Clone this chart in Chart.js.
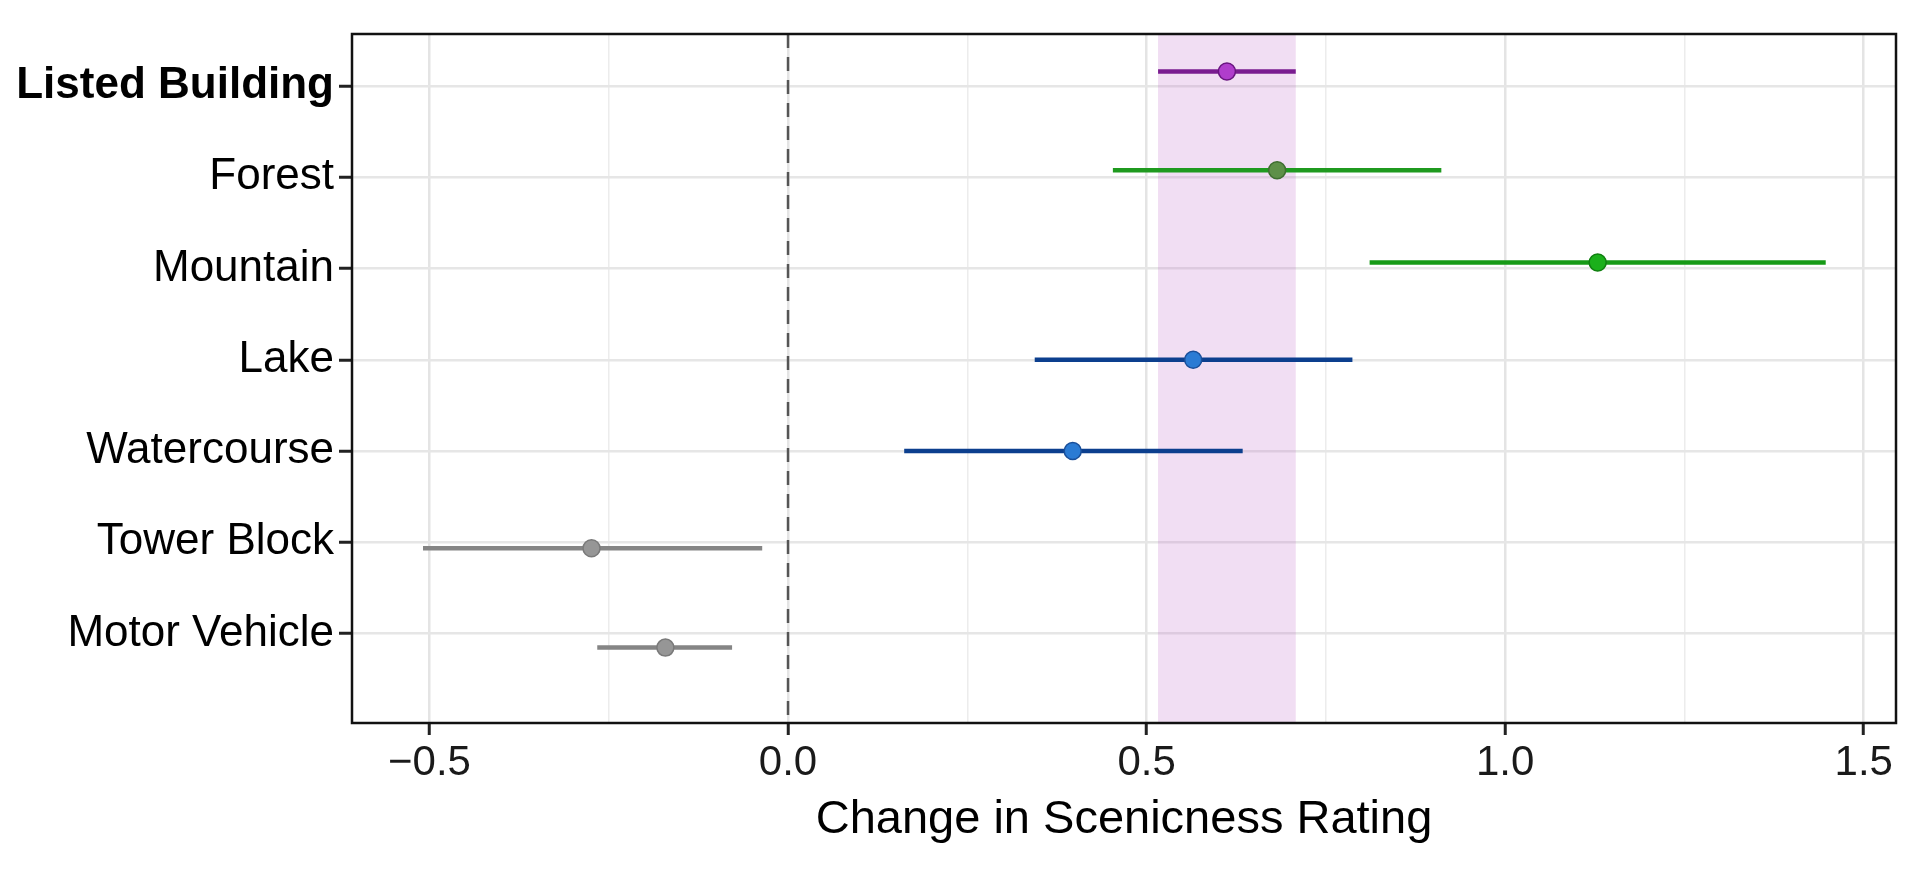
<!DOCTYPE html>
<html><head><meta charset="utf-8">
<script src="https://cdn.jsdelivr.net/npm/chart.js@4.4.0/dist/chart.umd.min.js"></script>
<style>html,body{margin:0;padding:0;background:#fff;overflow:hidden}canvas{display:block}</style>
</head><body>
<canvas id="c" width="1920" height="879" style="width:1920px;height:879px"></canvas>
<script>
// ---- data ----
const categories = ['Listed Building', 'Forest', 'Mountain', 'Lake', 'Watercourse', 'Tower Block', 'Motor Vehicle'];
const estimate = [0.612, 0.682, 1.129, 0.565, 0.397, -0.274, -0.171];
const lower    = [0.516, 0.453, 0.811, 0.344, 0.162, -0.509, -0.266];
const upper    = [0.708, 0.911, 1.447, 0.787, 0.634, -0.036, -0.078];
const dodge    = [-0.16, -0.077, -0.066, 0, 0, 0.066, 0.154];
const xTickValues  = [-0.5, 0, 0.5, 1, 1.5];
const xMinorValues = [-0.25, 0.25, 0.75, 1.25];
const referenceBand = [0.516, 0.708];
const zeroLine = 0;
const xTitle = 'Change in Scenicness Rating';

// ---- styles ----
const lineColors   = ['#7a1c90', '#1f9a1f', '#169a16', '#0c3f8e', '#0c3f8e', '#858585', '#858585'];
const pointColors  = ['#b03dcc', '#5e9048', '#1bb01b', '#2b7bd4', '#2b7bd4', '#969696', '#969696'];
const pointBorders = ['#6a1580', '#3f6e30', '#0f7f0f', '#1a4f9a', '#1a4f9a', '#7a7a7a', '#7a7a7a'];
const FONT = '"Liberation Sans", Arial, Helvetica, sans-serif';

const datasets = [];
datasets.push({
  label: 'estimate',
  order: 0,
  data: categories.map((c, i) => ({x: estimate[i], y: i + dodge[i]})),
  showLine: false,
  pointRadius: 8.5,
  pointBorderWidth: 1.5,
  pointBackgroundColor: pointColors,
  pointBorderColor: pointBorders
});
categories.forEach((c, i) => {
  datasets.push({
    label: c,
    order: 1,
    data: [{x: lower[i], y: i + dodge[i]}, {x: upper[i], y: i + dodge[i]}],
    showLine: true,
    borderColor: lineColors[i],
    borderWidth: 4.5,
    pointRadius: 0,
    borderCapStyle: 'butt'
  });
});

const decor = {
  id: 'decor',
  beforeDatasetsDraw(chart) {
    const {ctx, chartArea: a, scales: {x}} = chart;
    ctx.save();
    const b0 = x.getPixelForValue(referenceBand[0]);
    const b1 = x.getPixelForValue(referenceBand[1]);
    ctx.fillStyle = 'rgba(185, 90, 195, 0.2)';
    ctx.fillRect(b0, a.top, b1 - b0, a.bottom - a.top);
    const z = x.getPixelForValue(zeroLine);
    ctx.strokeStyle = '#555555';
    ctx.lineWidth = 2.5;
    ctx.setLineDash([14, 9]);
    ctx.beginPath();
    ctx.moveTo(z, a.top);
    ctx.lineTo(z, a.bottom);
    ctx.stroke();
    ctx.restore();
  },
  afterDraw(chart) {
    const {ctx, chartArea: a} = chart;
    ctx.save();
    ctx.strokeStyle = '#111';
    ctx.lineWidth = 2.5;
    ctx.strokeRect(a.left, a.top, a.right - a.left, a.bottom - a.top);
    ctx.restore();
  }
};

const isMajor = v => xTickValues.some(t => Math.abs(t - v) < 1e-9);

new Chart(document.getElementById('c'), {
  type: 'scatter',
  data: {datasets},
  plugins: [decor],
  options: {
    responsive: false,
    devicePixelRatio: 1,
    animation: false,
    layout: {padding: {top: 34, right: 24, left: 0, bottom: 0}},
    plugins: {legend: {display: false}, tooltip: {enabled: false}},
    scales: {
      x: {
        type: 'linear',
        min: -0.608,
        max: 1.545,
        afterBuildTicks: s => {
          s.ticks = [...xTickValues, ...xMinorValues].sort((p, q) => p - q).map(v => ({value: v}));
        },
        afterFit: s => { s.height = 156; },
        border: {display: false},
        grid: {
          color: c => (c.tick && isMajor(c.tick.value)) ? '#e4e4e4' : '#ececec',
          lineWidth: c => (c.tick && isMajor(c.tick.value)) ? 2.5 : 1.5,
          tickColor: c => (c.tick && isMajor(c.tick.value)) ? '#222222' : 'rgba(0,0,0,0)',
          tickWidth: 3,
          tickLength: 12,
          drawTicks: true
        },
        ticks: {
          autoSkip: false,
          maxRotation: 0,
          padding: 3,
          color: '#1a1a1a',
          font: {family: FONT, size: 42},
          callback: v => isMajor(v) ? (v < 0 ? '\u2212' + Math.abs(v).toFixed(1) : v.toFixed(1)) : ''
        },
        title: {
          display: true,
          text: xTitle,
          color: '#000',
          font: {family: FONT, size: 47},
          padding: {top: 0, bottom: 31}
        }
      },
      y: {
        type: 'linear',
        reverse: true,
        min: -0.57,
        max: 6.98,
        afterBuildTicks: s => { s.ticks = categories.map((c, i) => ({value: i})); },
        afterFit: s => { s.width = 352; },
        border: {display: false},
        grid: {
          color: '#e6e6e6',
          lineWidth: 2.5,
          tickColor: '#222222',
          tickWidth: 3,
          tickLength: 13,
          drawTicks: true
        },
        ticks: {
          autoSkip: false,
          padding: 5,
          color: '#000',
          font: c => ({family: FONT, size: 44, weight: (c.tick && c.tick.value === 0) ? 'bold' : 'normal'}),
          callback: v => categories[v]
        }
      }
    }
  }
});
</script>
</body></html>
